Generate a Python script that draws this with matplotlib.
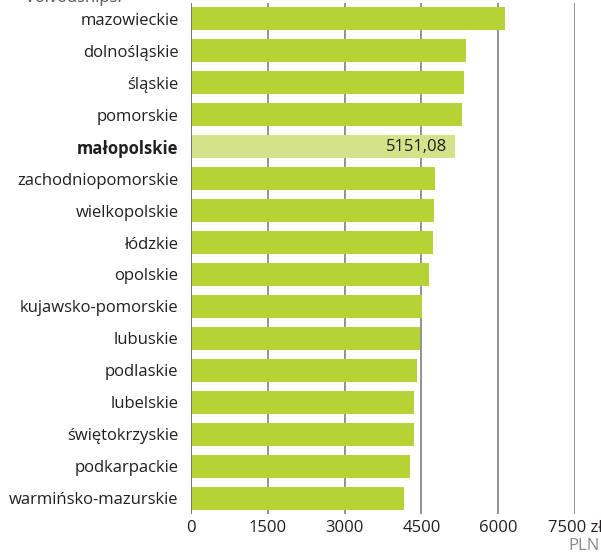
import matplotlib.pyplot as plt
import numpy as np

plt.rcParams['font.family'] = ['Open Sans', 'DejaVu Sans']

regions = ['mazowieckie', 'dolnośląskie', 'śląskie', 'pomorskie', 'małopolskie',
           'zachodniopomorskie', 'wielkopolskie', 'łódzkie', 'opolskie',
           'kujawsko-pomorskie', 'lubuskie', 'podlaskie', 'lubelskie',
           'świętokrzyskie', 'podkarpackie', 'warmińsko-mazurskie']
wages = [6124, 5380, 5341, 5302, 5151.08, 4774, 4754, 4735, 4657,
         4520, 4480, 4422, 4363, 4360, 4285, 4167]
ticks = [0, 1500, 3000, 4500, 6000, 7500]
tick_labels = ['0', '1500', '3000', '4500', '6000', '7500 zł']
highlight = 'małopolskie'

green = '#b5d334'
light = '#d4e38a'
grid_c = '#8a8a8a'
text_c = '#231f20'

fig = plt.figure(figsize=(6.01, 5.54), dpi=100)
ax = fig.add_axes([191/601, 1 - 514/554, (575-191)/601, (514-3)/554])

y = np.arange(len(regions))
colors = [light if r == highlight else green for r in regions]
ax.barh(y, wages, height=0.72, color=colors, zorder=2)

ax.set_xlim(0, 7500)
ax.set_ylim(len(regions) - 0.5, -0.5)

for t in ticks[1:]:
    ax.axvline(t, color=grid_c, lw=1.3, zorder=1)
ax.axvline(0, color='#6d6d6d', lw=1.3, zorder=3)

for s in ax.spines.values():
    s.set_visible(False)

ax.set_xticks(ticks)
ax.set_xticklabels(tick_labels)
ax.tick_params(axis='x', length=0, pad=4, labelsize=12, labelcolor=text_c)
ax.set_yticks(y)
ax.set_yticklabels(regions)
ax.tick_params(axis='y', length=0, pad=9, labelsize=12, labelcolor=text_c)
for lbl in ax.get_yticklabels():
    if lbl.get_text() == highlight:
        lbl.set_fontweight('bold')

i = regions.index(highlight)
ax.text(wages[i] - 150, i, '5151,08', ha='right', va='center',
        fontsize=12, color=text_c, zorder=4)

fig.text(600/601, 1 - 546/554, 'PLN', ha='right', va='center',
         fontsize=12, color='#8a8a8a')
fig.text(122/601, 1 + 2/554, 'Voivodships:', ha='right', va='center',
         fontsize=12, color='#555555')

fig.savefig('out.png', dpi=100)
